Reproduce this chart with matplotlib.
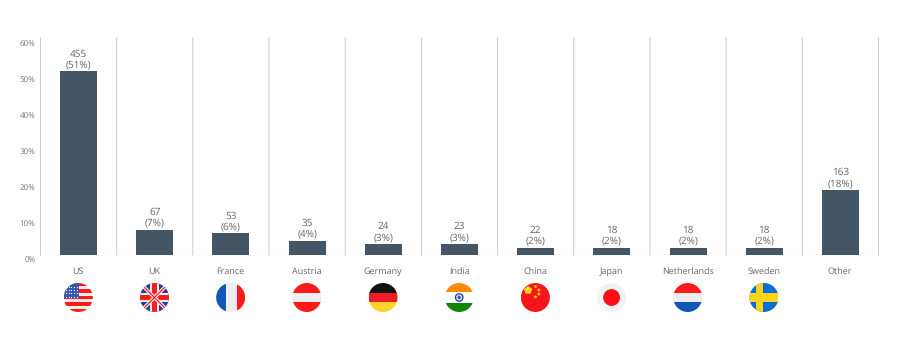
import numpy as np
import matplotlib
matplotlib.use("Agg")
import matplotlib.pyplot as plt
from matplotlib.patches import Circle, Rectangle, RegularPolygon

plt.rcParams['font.family'] = ['Open Sans', 'DejaVu Sans']
plt.rcParams['text.hinting'] = 'no_hinting'
plt.rcParams['text.hinting_factor'] = 1

countries = ['US', 'UK', 'France', 'Austria', 'Germany', 'India', 'China', 'Japan', 'Netherlands', 'Sweden', 'Other']
counts = [455, 67, 53, 35, 24, 23, 22, 18, 18, 18, 163]
shares = [51, 7, 6, 4, 3, 3, 2, 2, 2, 2, 18]
y_ticks = [0, 10, 20, 30, 40, 50, 60]
flags = ['us', 'uk', 'fr', 'at', 'de', 'in', 'cn', 'jp', 'nl', 'se', None]

W, H = 901, 354
L, R, T, B = 40.5, 878.5, 39, 255
BAR = '#445566'
TXT = '#666666'

fig = plt.figure(figsize=(W/100, H/100), dpi=100, facecolor='white')
ax = fig.add_axes([L/W, 1-B/H, (R-L)/W, (B-T)/H])
ax.set_xlim(0, len(countries))
ax.set_ylim(0, 60)
x = np.arange(len(countries)) + 0.5
ax.bar(x, shares, width=37/76.18, color=BAR, linewidth=0, zorder=3)
for s in ax.spines.values():
    s.set_visible(False)
ax.set_xticks([])
ax.set_yticks([])

for v in range(len(countries) + 1):
    ax.plot([v, v], [0, 60.3], color='#cccccc', lw=0.7, clip_on=False, zorder=1, snap=False)
ax.axhline(0, color='#e8e8e8', lw=0.8, zorder=1)

for t in y_ticks:
    ax.annotate(f'{t}%', (0, t), xytext=(-3.6, -3.6), textcoords='offset points', ha='right', va='center',
                fontsize=6.1, color='#777777', annotation_clip=False)

for xi, name, c, s in zip(x, countries, counts, shares):
    ax.annotate(f'{c}\n({s}%)', (xi, s), xytext=(0, 1.2), textcoords='offset points', ha='center', va='bottom',
                fontsize=7.0, color=TXT, linespacing=1.12, zorder=4)
    ax.annotate(name, (xi, 0), xytext=(-0.3, -12.0), textcoords='offset points', ha='center', va='center',
                fontsize=6.3, color=TXT, annotation_clip=False)


def draw_flag(a, code):
    clip = Circle((0.5, 0.5), 0.5, transform=a.transData)
    def rect(x0, y0, w, h, col):
        p = Rectangle((x0, y0), w, h, color=col, lw=0)
        a.add_patch(p); p.set_clip_path(clip)
    def line(xs, ys, col, lw):
        l, = a.plot(xs, ys, color=col, lw=lw, solid_capstyle='butt')
        l.set_clip_path(clip)
    RED, WHITE, BLUE = '#ff1a1a', '#eeeef0', '#1257b8'
    if code == 'us':
        for k in range(9):
            rect(0, k/9, 1, 1/9, RED if k % 2 == 0 else WHITE)
        rect(0, 0.47, 0.52, 0.53, '#3557ad')
        for i in range(5):
            for j in range(4):
                a.plot(0.07+i*0.095, 0.53+j*0.115, '.', ms=1.8, color='white', mew=0)
    elif code == 'uk':
        rect(0, 0, 1, 1, '#1f3f9c')
        line([0, 1], [0, 1], WHITE, 2.6); line([0, 1], [1, 0], WHITE, 2.6)
        line([0, 1], [0, 1], RED, 0.9); line([0, 1], [1, 0], RED, 0.9)
        rect(0.33, 0, 0.34, 1, WHITE); rect(0, 0.33, 1, 0.34, WHITE)
        rect(0.41, 0, 0.18, 1, RED); rect(0, 0.41, 1, 0.18, RED)
    elif code == 'fr':
        rect(0, 0, 1/3, 1, BLUE); rect(1/3, 0, 0.4, 1, WHITE); rect(0.73, 0, 0.27, 1, RED)
    elif code == 'at':
        rect(0, 0, 1, 0.35, RED); rect(0, 0.35, 1, 0.3, WHITE); rect(0, 0.65, 1, 0.35, RED)
    elif code == 'de':
        rect(0, 0, 1, 1/3, '#ffd42a'); rect(0, 1/3, 1, 1/3, '#ee1c25'); rect(0, 2/3, 1, 1/3, '#111111')
    elif code == 'in':
        rect(0, 0, 1, 0.3, '#138808'); rect(0, 0.3, 1, 0.4, 'white'); rect(0, 0.7, 1, 0.3, '#ff8a12')
        a.add_patch(Circle((0.5, 0.5), 0.13, fc='#c8d0ee', ec='#27408f', lw=0.9))
        a.add_patch(Circle((0.5, 0.5), 0.05, fc='#27408f', lw=0))
    elif code == 'cn':
        rect(0, 0, 1, 1, '#f5161b')
        a.add_patch(RegularPolygon((0.25, 0.75), 5, radius=0.15, color='#ffd21f', lw=0))
        for px, py in [(0.5, 0.88), (0.62, 0.76), (0.62, 0.62), (0.5, 0.52)]:
            a.add_patch(RegularPolygon((px, py), 5, radius=0.055, color='#ffd21f', lw=0))
    elif code == 'jp':
        rect(0, 0, 1, 1, '#f3f3f6')
        a.add_patch(Circle((0.5, 0.5), 0.29, color='#ff0d12', lw=0))
    elif code == 'nl':
        rect(0, 0, 1, 0.35, BLUE); rect(0, 0.35, 1, 0.3, WHITE); rect(0, 0.65, 1, 0.35, '#ff1a1a')
    elif code == 'se':
        rect(0, 0, 1, 1, '#0a6fd0')
        rect(0.23, 0, 0.24, 1, '#ffd21a'); rect(0, 0.36, 1, 0.28, '#ffd21a')


D = 29
cy = 297.5
for i, code in enumerate(flags):
    if code is None:
        continue
    fx = L + (R-L)*(i+0.5)/len(countries) - 0.3
    a = fig.add_axes([(fx-D/2)/W, 1-(cy+D/2)/H, D/W, D/H])
    a.set_xlim(0, 1); a.set_ylim(0, 1); a.axis('off')
    draw_flag(a, code)

fig.savefig('out.png', dpi=100, facecolor='white')
